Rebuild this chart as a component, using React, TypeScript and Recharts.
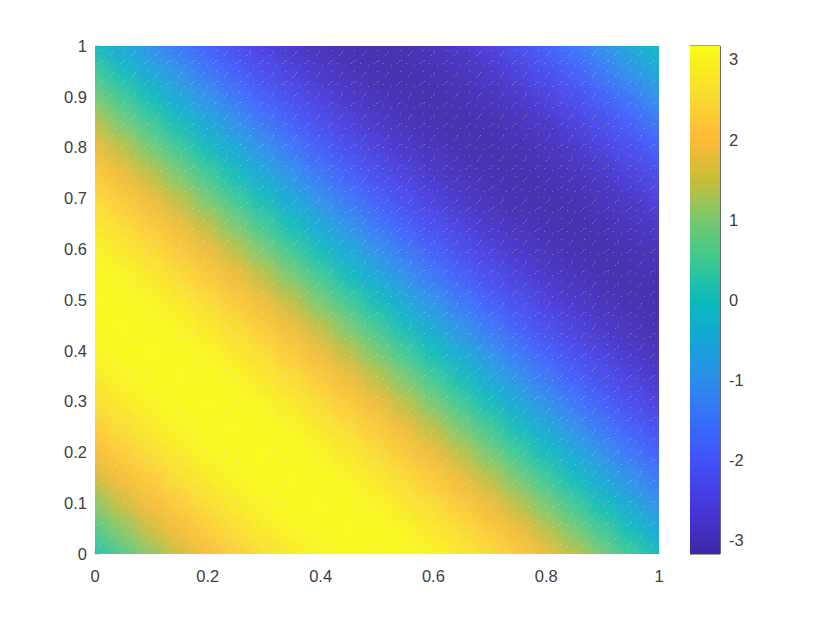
import React from "react";
import { ScatterChart, Scatter, XAxis, YAxis, ReferenceArea } from "recharts";

const xTicks = [0, 0.2, 0.4, 0.6, 0.8, 1];
const yTicks = [0, 0.1, 0.2, 0.3, 0.4, 0.5, 0.6, 0.7, 0.8, 0.9, 1];
const barTicks = [-3, -2, -1, 0, 1, 2, 3];
const gridX = [0, 0.05, 0.1, 0.15, 0.2, 0.25, 0.3, 0.35, 0.4, 0.45, 0.5, 0.55, 0.6, 0.65, 0.7, 0.75, 0.8, 0.85, 0.9, 0.95, 1];
const gridY = gridX;
// rows from y = 0 upward
const gridRows: number[][] = [
  [0.2, 0.65, 1.1, 1.55, 1.95, 2.3, 2.6, 2.85, 3.02, 3.12, 3.15, 3.12, 3.02, 2.82, 2.56, 2.24, 1.87, 1.43, 0.97, 0.49, 0],
  [0.65, 1.1, 1.55, 1.95, 2.3, 2.6, 2.85, 3.02, 3.12, 3.15, 3.12, 3.02, 2.82, 2.56, 2.24, 1.87, 1.43, 0.97, 0.49, 0, -0.49],
  [1.1, 1.55, 1.95, 2.3, 2.6, 2.85, 3.02, 3.12, 3.15, 3.12, 3.02, 2.82, 2.56, 2.24, 1.87, 1.43, 0.97, 0.49, 0, -0.49, -0.97],
  [1.55, 1.95, 2.3, 2.6, 2.85, 3.02, 3.12, 3.15, 3.12, 3.02, 2.82, 2.56, 2.24, 1.87, 1.43, 0.97, 0.49, 0, -0.49, -0.97, -1.43],
  [1.95, 2.3, 2.6, 2.85, 3.02, 3.12, 3.15, 3.12, 3.02, 2.82, 2.56, 2.24, 1.87, 1.43, 0.97, 0.49, 0, -0.49, -0.97, -1.43, -1.85],
  [2.3, 2.6, 2.85, 3.02, 3.12, 3.15, 3.12, 3.02, 2.82, 2.56, 2.24, 1.87, 1.43, 0.97, 0.49, 0, -0.49, -0.97, -1.43, -1.85, -2.22],
  [2.6, 2.85, 3.02, 3.12, 3.15, 3.12, 3.02, 2.82, 2.56, 2.24, 1.87, 1.43, 0.97, 0.49, 0, -0.49, -0.97, -1.43, -1.85, -2.22, -2.54],
  [2.85, 3.02, 3.12, 3.15, 3.12, 3.02, 2.82, 2.56, 2.24, 1.87, 1.43, 0.97, 0.49, 0, -0.49, -0.97, -1.43, -1.85, -2.22, -2.54, -2.8],
  [3.02, 3.12, 3.15, 3.12, 3.02, 2.82, 2.56, 2.24, 1.87, 1.43, 0.97, 0.49, 0, -0.49, -0.97, -1.43, -1.85, -2.22, -2.54, -2.8, -2.99],
  [3.12, 3.15, 3.12, 3.02, 2.82, 2.56, 2.24, 1.87, 1.43, 0.97, 0.49, 0, -0.49, -0.97, -1.43, -1.85, -2.22, -2.54, -2.8, -2.99, -3.1],
  [3.15, 3.12, 3.02, 2.82, 2.56, 2.24, 1.87, 1.43, 0.97, 0.49, 0, -0.49, -0.97, -1.43, -1.85, -2.22, -2.54, -2.8, -2.99, -3.1, -3.14],
  [3.12, 3.02, 2.82, 2.56, 2.24, 1.87, 1.43, 0.97, 0.49, 0, -0.49, -0.97, -1.43, -1.85, -2.22, -2.54, -2.8, -2.99, -3.1, -3.14, -3.1],
  [3.02, 2.82, 2.56, 2.24, 1.87, 1.43, 0.97, 0.49, 0, -0.49, -0.97, -1.43, -1.85, -2.22, -2.54, -2.8, -2.99, -3.1, -3.14, -3.1, -2.99],
  [2.82, 2.56, 2.24, 1.87, 1.43, 0.97, 0.49, 0, -0.49, -0.97, -1.43, -1.85, -2.22, -2.54, -2.8, -2.99, -3.1, -3.14, -3.1, -2.99, -2.8],
  [2.56, 2.24, 1.87, 1.43, 0.97, 0.49, 0, -0.49, -0.97, -1.43, -1.85, -2.22, -2.54, -2.8, -2.99, -3.1, -3.14, -3.1, -2.99, -2.8, -2.54],
  [2.24, 1.87, 1.43, 0.97, 0.49, 0, -0.49, -0.97, -1.43, -1.85, -2.22, -2.54, -2.8, -2.99, -3.1, -3.14, -3.1, -2.99, -2.8, -2.54, -2.22],
  [1.87, 1.43, 0.97, 0.49, 0, -0.49, -0.97, -1.43, -1.85, -2.22, -2.54, -2.8, -2.99, -3.1, -3.14, -3.1, -2.99, -2.8, -2.54, -2.22, -1.85],
  [1.43, 0.97, 0.49, 0, -0.49, -0.97, -1.43, -1.85, -2.22, -2.54, -2.8, -2.99, -3.1, -3.14, -3.1, -2.99, -2.8, -2.54, -2.22, -1.85, -1.43],
  [0.97, 0.49, 0, -0.49, -0.97, -1.43, -1.85, -2.22, -2.54, -2.8, -2.99, -3.1, -3.14, -3.1, -2.99, -2.8, -2.54, -2.22, -1.85, -1.43, -0.97],
  [0.49, 0, -0.49, -0.97, -1.43, -1.85, -2.22, -2.54, -2.8, -2.99, -3.1, -3.14, -3.1, -2.99, -2.8, -2.54, -2.22, -1.85, -1.43, -0.97, -0.49],
  [-0.05, -0.49, -0.97, -1.43, -1.85, -2.22, -2.54, -2.8, -2.99, -3.1, -3.14, -3.1, -2.99, -2.8, -2.54, -2.22, -1.85, -1.43, -0.97, -0.49, -0.1],
];
const barLevels = [
  -3.15, -3.05, -2.95, -2.85, -2.75, -2.65, -2.55, -2.45, -2.35, -2.25, -2.15, -2.05, -1.95, -1.85, -1.75, -1.65,
  -1.55, -1.45, -1.35, -1.25, -1.15, -1.05, -0.95, -0.85, -0.75, -0.65, -0.55, -0.45, -0.35, -0.25, -0.15, -0.05,
  0.05, 0.15, 0.25, 0.35, 0.45, 0.55, 0.65, 0.75, 0.85, 0.95, 1.05, 1.15, 1.25, 1.35, 1.45, 1.55,
  1.65, 1.75, 1.85, 1.95, 2.05, 2.15, 2.25, 2.35, 2.45, 2.55, 2.65, 2.75, 2.85, 2.95, 3.05, 3.15,
];
const colorStops: [number, number, number, number][] = [
  [-3.17, 62, 38, 168],
  [-2.6, 70, 55, 215],
  [-2.0, 66, 80, 250],
  [-1.5, 55, 110, 250],
  [-1.0, 45, 140, 235],
  [-0.5, 20, 165, 215],
  [0.0, 12, 186, 186],
  [0.5, 60, 200, 145],
  [1.0, 118, 200, 112],
  [1.5, 200, 190, 55],
  [2.0, 254, 185, 55],
  [2.5, 250, 215, 50],
  [3.17, 249, 251, 20],
];

const colorOf = (v: number): string => {
  const s = colorStops;
  if (v <= s[0][0]) return `rgb(${s[0][1]},${s[0][2]},${s[0][3]})`;
  for (let i = 1; i < s.length; i++) {
    if (v <= s[i][0]) {
      const f = (v - s[i - 1][0]) / (s[i][0] - s[i - 1][0]);
      const m = (k: number) => Math.round(s[i - 1][k] + f * (s[i][k] - s[i - 1][k]));
      return `rgb(${m(1)},${m(2)},${m(3)})`;
    }
  }
  const l = s[s.length - 1];
  return `rgb(${l[1]},${l[2]},${l[3]})`;
};

const gridData = gridRows.flatMap((row, j) => row.map((value, i) => ({ x: gridX[i], y: gridY[j], value })));
const barData = barLevels.map((value) => ({ x: 0.5, y: value, value }));

const font = { fontFamily: "'Liberation Sans', Arial, sans-serif", fontSize: 16.5, fill: "#404040" };

const GridCell = (p: any) => (
  <rect x={p.cx - 15} y={p.cy - 13.5} width={30} height={27} fill={colorOf(p.payload.value)} />
);
const BarCell = (p: any) => (
  <rect x={p.cx - 15} y={p.cy - 4.5} width={30} height={9} fill={colorOf(p.payload.value)} />
);

const css = `.heat .recharts-scatter { filter: url(#smooth); clip-path: url(#plotClip); }`;

export default function App() {
  return (
    <div style={{ position: "absolute", left: 0, top: 0, width: 830, height: 623, background: "#fff" }}>
      <style>{css}</style>
      <div className="heat" style={{ position: "absolute", left: 0, top: 0 }}>
        <ScatterChart width={830} height={623} margin={{ left: 55, right: 171, top: 46, bottom: 39 }}>
          <defs>
            <clipPath id="plotClip" clipPathUnits="userSpaceOnUse">
              <rect x={95} y={46} width={564} height={508} />
            </clipPath>
            <filter id="smooth" filterUnits="userSpaceOnUse" x={0} y={0} width={830} height={623} colorInterpolationFilters="sRGB">
              <feGaussianBlur stdDeviation={9} />
              <feComponentTransfer>
                <feFuncA type="linear" slope={30} />
              </feComponentTransfer>
            </filter>
          </defs>
          <XAxis
            type="number"
            dataKey="x"
            domain={[0, 1]}
            ticks={xTicks}
            axisLine={false}
            tickLine={{ stroke: "#555", strokeOpacity: 0.35 }}
            tickSize={-5}
            tickMargin={21}
            tick={font}
            height={30}
            interval={0}
          />
          <YAxis
            type="number"
            dataKey="y"
            domain={[0, 1]}
            ticks={yTicks}
            axisLine={false}
            tickLine={{ stroke: "#555", strokeOpacity: 0.35 }}
            tickSize={-5}
            tickMargin={13}
            tick={font}
            width={40}
            interval={0}
          />
          <Scatter data={gridData} shape={GridCell} isAnimationActive={false} />
        </ScatterChart>
      </div>
      <svg width={564} height={508} style={{ position: "absolute", left: 95, top: 46, pointerEvents: "none" }}>
        <defs>
          <pattern id="speck" patternUnits="userSpaceOnUse" width={23} height={21}>
            <rect width={23} height={21} fill="#fff" fillOpacity={0.05} />
            <g fill="#fff" fillOpacity={0.3}>
              <rect x={3} y={17} width={1} height={1} />
              <rect x={5} y={15} width={1} height={1} />
              <rect x={7} y={14} width={1} height={1} />
              <rect x={14} y={9} width={1} height={1} />
              <rect x={16} y={7} width={1} height={1} />
              <rect x={17} y={5} width={1} height={1} />
              <rect x={20} y={19} width={1} height={1} />
              <rect x={6} y={4} width={1} height={1} />
              <rect x={12} y={17} width={1} height={1} />
            </g>
          </pattern>
        </defs>
        <rect width={564} height={508} fill="url(#speck)" />
      </svg>
      <div style={{ position: "absolute", left: 690, top: 0 }}>
        <ScatterChart width={140} height={623} margin={{ left: 0, right: 70, top: 46, bottom: 69 }}>
          <XAxis type="number" dataKey="x" domain={[0, 1]} hide />
          <YAxis
            type="number"
            dataKey="y"
            orientation="right"
            domain={[-3.17, 3.17]}
            ticks={barTicks}
            axisLine={{ stroke: "#333" }}
            tickLine={{ stroke: "#333" }}
            tickSize={-4}
            tickMargin={13}
            tick={{ ...font, textAnchor: "start" }}
            width={40}
            interval={0}
            allowDataOverflow
          />
          <Scatter data={barData} shape={BarCell} isAnimationActive={false} />
          <ReferenceArea x1={0} x2={1} y1={-3.17} y2={3.17} fill="none" stroke="#404040" strokeWidth={1} />
        </ScatterChart>
      </div>
    </div>
  );
}
